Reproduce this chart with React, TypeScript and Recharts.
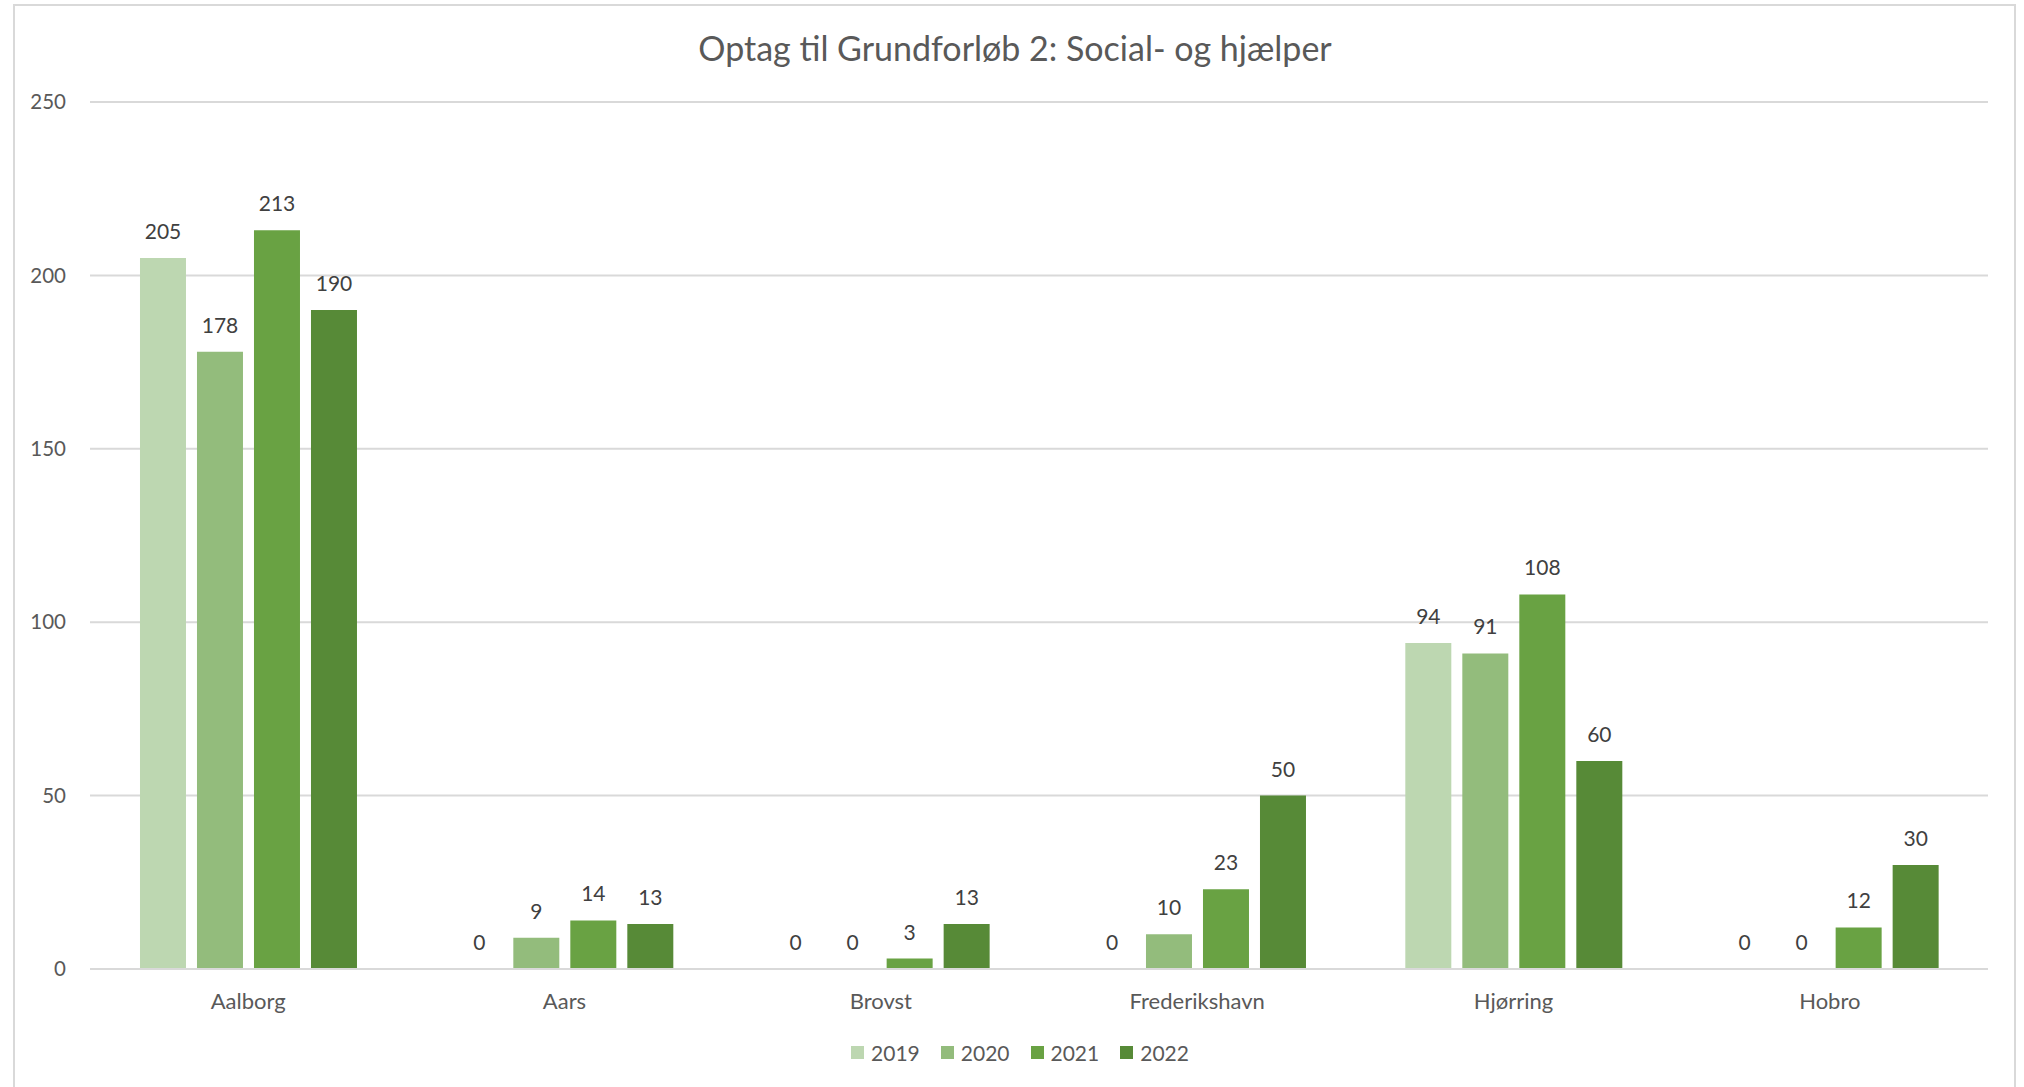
import React from 'react';
import { BarChart, Bar, XAxis, YAxis, CartesianGrid, LabelList, Legend } from 'recharts';

const categories = ['Aalborg', 'Aars', 'Brovst', 'Frederikshavn', 'Hjørring', 'Hobro'];
const years = ['2019', '2020', '2021', '2022'];
const values2019 = [205, 0, 0, 0, 94, 0];
const values2020 = [178, 9, 0, 10, 91, 0];
const values2021 = [213, 14, 3, 23, 108, 12];
const values2022 = [190, 13, 13, 50, 60, 30];
const yTicks = [0, 50, 100, 150, 200, 250];
const colors = ['#BDD7B1', '#93BC7C', '#69A243', '#578A37'];
const title = 'Optag til Grundforløb 2: Social- og hjælper';

const seriesValues = [values2019, values2020, values2021, values2022];
const data = categories.map((c, i) => {
  const row: Record<string, string | number> = { name: c };
  years.forEach((y, k) => {
    row[y] = seriesValues[k][i];
  });
  return row;
});

const FONT = 'Lato, "Open Sans", sans-serif';

const LegendContent = () => (
  <div style={{ display: 'flex', justifyContent: 'center', fontFamily: FONT, fontSize: 21, color: '#595959' }}>
    {years.map((y, i) => (
      <div key={y} style={{ display: 'flex', alignItems: 'center', marginRight: i < years.length - 1 ? 21 : 0 }}>
        <span style={{ width: 13, height: 13, background: colors[i], display: 'inline-block', marginRight: 7 }} />
        <span>{y}</span>
      </div>
    ))}
  </div>
);

const ValueLabel = (props: any) => {
  const { x, y, width, value } = props;
  if (x == null || y == null) return null;
  return (
    <text
      x={Number(x) + Number(width) / 2}
      y={Number(y) - 19}
      textAnchor="middle"
      fill="#404040"
      fontSize={21}
      fontFamily={FONT}
    >
      {value}
    </text>
  );
};

export default function App() {
  return (
    <div style={{ position: 'absolute', left: 0, top: 0, width: 2024, height: 1087, background: '#fff', overflow: 'hidden' }}>
      <div
        style={{
          position: 'absolute',
          left: 13,
          top: 4,
          width: 2003,
          height: 1100,
          border: '2px solid #D9D9D9',
          boxSizing: 'border-box',
        }}
      />
      <div
        style={{
          position: 'absolute',
          left: 0,
          top: 26,
          width: 2030,
          textAlign: 'center',
          fontFamily: FONT,
          fontSize: 34,
          color: '#595959',
          lineHeight: '44px',
        }}
      >
        {title}
      </div>
      <BarChart
        width={2024}
        height={1087}
        data={data}
        margin={{ top: 102, right: 36, bottom: 0, left: 30 }}
        barCategoryGap="15.8%"
        barGap={11}
      >
        <CartesianGrid vertical={false} stroke="#D9D9D9" strokeWidth={2} />
        <XAxis
          dataKey="name"
          height={118}
          axisLine={{ stroke: '#D9D9D9', strokeWidth: 2 }}
          tickLine={false}
          tick={{ fill: '#595959', fontSize: 22, fontFamily: FONT }}
          tickMargin={18}
        />
        <YAxis
          width={60}
          domain={[0, 250]}
          ticks={yTicks}
          axisLine={false}
          tickLine={false}
          tick={{ fill: '#595959', fontSize: 20.5, fontFamily: FONT }}
          tickMargin={18}
        />
        <Legend
          layout="horizontal"
          verticalAlign="middle"
          align="center"
          wrapperStyle={{ position: 'absolute', top: 1040, left: 8, width: 2024 }}
          content={<LegendContent />}
        />
        {years.map((y, i) => (
          <Bar key={y} dataKey={y} fill={colors[i]} isAnimationActive={false} minPointSize={0.01}>
            <LabelList dataKey={y} position="top" content={<ValueLabel />} />
          </Bar>
        ))}
      </BarChart>
    </div>
  );
}
